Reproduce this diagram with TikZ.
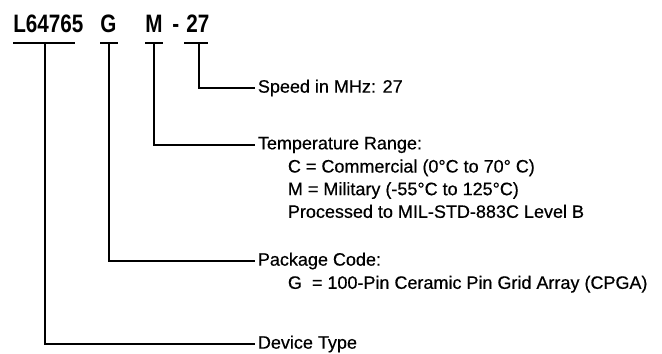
\documentclass[tikz,border=0pt]{standalone}
\usepackage{fontspec}
\setmainfont{Liberation Sans}
\newfontfamily\codefont{Liberation Sans}[FakeStretch=0.82]
\newfontfamily\champfont{Liberation Sans}[UprightFeatures={FakeBold=0.5}]
\usetikzlibrary{positioning}
\tikzset{
  code/.style={font=\codefont\bfseries\fontsize{18.9}{20}\selectfont,inner sep=0pt,anchor=base west},
  champ/.style={font=\champfont\fontsize{13.5}{17}\selectfont,inner xsep=2pt,inner ysep=0pt,anchor=west},
  detail/.style={champ,align=left,anchor=north west},
  trait/.style={line width=1.4pt},
}

\begin{document}
\begin{tikzpicture}[x=0.75pt,y=-0.75pt]
  \useasboundingbox (0,0) rectangle (662,354);
  % numero de piece
  \node[code] (dev) at (13,32) {L64765};
  \node[code] (pkg) at (100,32) {G};
  \node[code] (temp) at (145,32) {M};
  \node[code] (tiret) at (172,32) {-};
  \node[code] (spd) at (186,32) {27};
  \foreach \a/\b in {13/75,100/118,145/163,184/208} \draw[trait] (\a,43) -- (\b,43);
  \coordinate (b1) at (45,43);
  \coordinate (b2) at (109,43);
  \coordinate (b3) at (154,43);
  \coordinate (b4) at (199,43);
  % champs
  \node[champ] (spdtxt) at (255,88) {Speed in MHz: 27};
  \node[champ] (temptxt) at (255,145) {Temperature Range:};
  \node[detail,below right=4.4pt and 22.5pt of temptxt.south west] (tempdet)
    {C = Commercial (0°C to 70° C)\\M = Military (-55°C to 125°C)\\Processed to MIL-STD-883C Level B};
  \node[champ] (pkgtxt) at (255,261) {Package Code:};
  \node[detail,below right=4.4pt and 22.5pt of pkgtxt.south west] (pkgdet)
    {G~~= 100-Pin Ceramic Pin Grid Array (CPGA)};
  \node[champ] (devtxt) at (255,344) {Device Type};
  \foreach \b/\t in {b1/devtxt,b2/pkgtxt,b3/temptxt,b4/spdtxt} \draw[trait] (\b) |- (\t.west);
\end{tikzpicture}
\end{document}
